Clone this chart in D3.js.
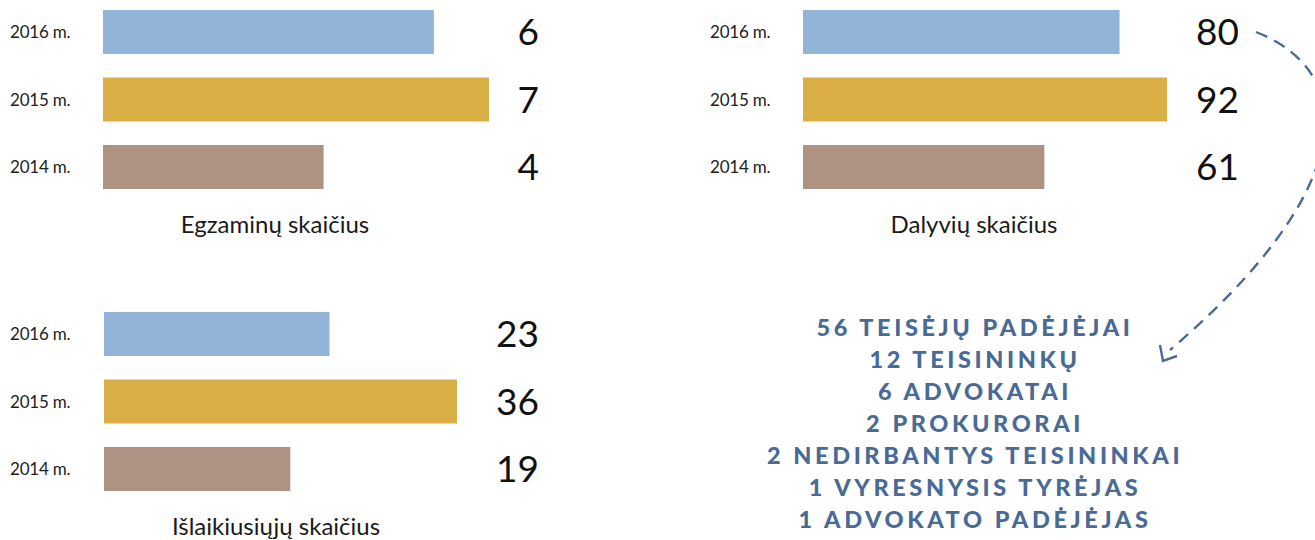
<!DOCTYPE html>
<html lang="lt">
<head>
<meta charset="utf-8">
<script src="https://cdn.jsdelivr.net/npm/d3@7"></script>
<style>
  html, body { margin: 0; padding: 0; background: #fff; }
  svg { display: block; }
  text { font-family: Lato, "Open Sans", sans-serif; }
</style>
</head>
<body>
<svg id="chart" width="1315" height="540"></svg>
<script>
// Metų kategorijos ir rodikliai
const years = ["2016 m.", "2015 m.", "2014 m."];
const egzaminai = [6, 7, 4];
const dalyviai = [80, 92, 61];
const islaike = [23, 36, 19];
const barColors = ["#92b5d7", "#d9ae45", "#ae9382"];

// 2016 m. dalyvių sudėtis
const sudetis = [
  "56 TEISĖJŲ PADĖJĖJAI",
  "12 TEISININKŲ",
  "6 ADVOKATAI",
  "2 PROKURORAI",
  "2 NEDIRBANTYS TEISININKAI",
  "1 VYRESNYSIS TYRĖJAS",
  "1 ADVOKATO PADĖJĖJAS"
];

const svg = d3.select("#chart");

function panel(opts) {
  const { values, title, left, top, width, labelX, valueX, titleX, titleY } = opts;
  const step = 67.5, pad = 23.5 / step;
  const y = d3.scaleBand()
    .domain(years)
    .range([top - step * pad / 2, top - step * pad / 2 + step * years.length])
    .paddingInner(pad)
    .paddingOuter(pad / 2);
  const x = d3.scaleLinear()
    .domain([0, d3.max(values)])
    .range([left, left + width]);
  const color = d3.scaleOrdinal().domain(years).range(barColors);

  const g = svg.append("g");
  const rows = years.map((yr, i) => ({ yr, v: values[i] }));

  g.selectAll("rect")
    .data(rows)
    .join("rect")
    .attr("x", x(0))
    .attr("y", d => y(d.yr))
    .attr("width", d => x(d.v) - x(0))
    .attr("height", y.bandwidth())
    .attr("fill", d => color(d.yr));

  g.selectAll("text.year")
    .data(rows)
    .join("text")
    .attr("class", "year")
    .attr("x", labelX)
    .attr("y", d => y(d.yr) + y.bandwidth() / 2)
    .attr("dy", "0.36em")
    .attr("font-size", 17)
    .attr("font-weight", 400)
    .attr("letter-spacing", "-0.2px")
    .attr("fill", "#222")
    .text(d => d.yr);

  g.selectAll("text.val")
    .data(rows)
    .join("text")
    .attr("class", "val")
    .attr("x", valueX)
    .attr("y", d => y(d.yr) + y.bandwidth() / 2)
    .attr("dy", "0.36em")
    .attr("text-anchor", "end")
    .attr("font-size", 37)
    .attr("font-weight", 400)
    .attr("fill", "#111")
    .text(d => d.v);

  g.append("text")
    .attr("x", titleX)
    .attr("y", titleY)
    .attr("text-anchor", "middle")
    .attr("font-size", 24)
    .attr("fill", "#1a1a1a")
    .text(title);
}

panel({ values: egzaminai, title: "Egzaminų skaičius", left: 103, top: 10, width: 386,
        labelX: 10, valueX: 539, titleX: 275, titleY: 233 });
panel({ values: dalyviai, title: "Dalyvių skaičius", left: 803, top: 10, width: 364,
        labelX: 710, valueX: 1239, titleX: 974, titleY: 233 });
panel({ values: islaike, title: "Išlaikiusiųjų skaičius", left: 104, top: 312, width: 353,
        labelX: 10, valueX: 539, titleX: 276, titleY: 535 });

// Dalyvių sudėties sąrašas
const lineY = d3.scaleLinear().domain([0, 1]).range([328, 360]);
svg.append("g")
  .selectAll("text")
  .data(sudetis)
  .join("text")
  .attr("x", 975)
  .attr("y", (d, i) => lineY(i))
  .attr("dy", "0.36em")
  .attr("text-anchor", "middle")
  .attr("font-size", 23.5)
  .attr("font-weight", 900)
  .attr("letter-spacing", "3.6px")
  .attr("fill", "#4a6a96")
  .text(d => d);

// Brūkšninė rodyklė nuo dalyvių skaičiaus prie sąrašo
const arrow = svg.append("g")
  .attr("fill", "none")
  .attr("stroke", "#4a6a96")
  .attr("stroke-width", 2.4)
  .attr("stroke-linecap", "butt");
arrow.append("path")
  .attr("d", "M1256,32 C1364,75 1352,195 1170,350")
  .attr("stroke-dasharray", "12 8");
arrow.append("path")
  .attr("d", "M1160,345 L1163,361 L1177,356")
  .attr("stroke-linejoin", "miter");
</script>
</body>
</html>
